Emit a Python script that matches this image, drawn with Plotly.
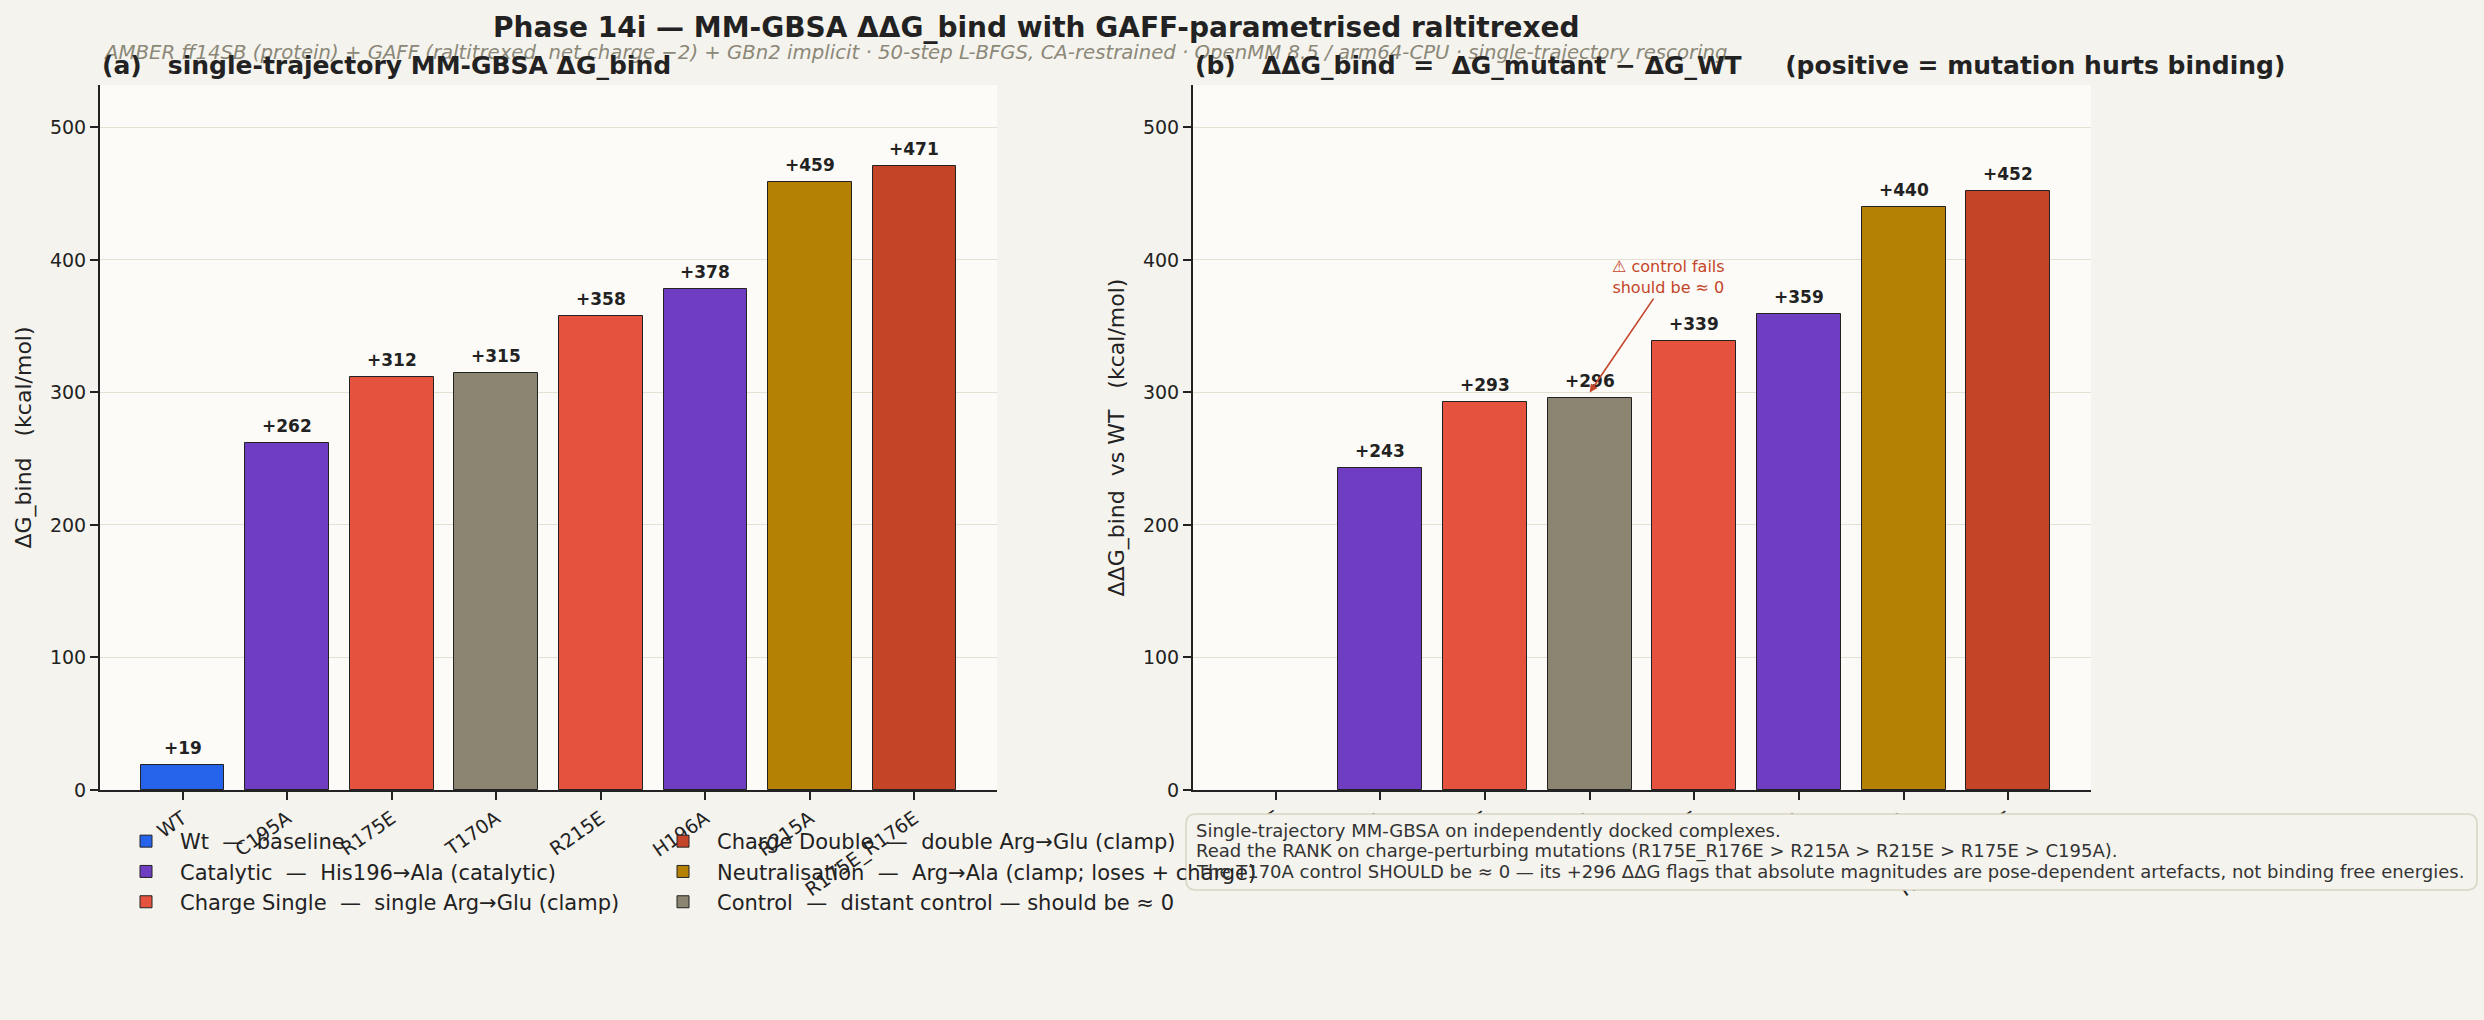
import plotly.graph_objects as go

# ---------------- data ----------------
mutants = ["WT", "C195A", "R175E", "T170A", "R215E", "H196A", "R215A", "R175E_R176E"]
mutant_groups = ["Wt", "Catalytic", "Charge Single", "Control", "Charge Single",
                 "Catalytic", "Neutralisation", "Charge Double"]
dg_bind = [19, 262, 312, 315, 358, 378, 459, 471]
ddg_bind = [0, 243, 293, 296, 339, 359, 440, 452]

legend_col1 = ["Wt", "Catalytic", "Charge Single"]
legend_col2 = ["Charge Double", "Neutralisation", "Control"]
group_desc = {
    "Wt": "baseline",
    "Catalytic": "His196→Ala (catalytic)",
    "Charge Single": "single Arg→Glu (clamp)",
    "Charge Double": "double Arg→Glu (clamp)",
    "Neutralisation": "Arg→Ala (clamp; loses + charge)",
    "Control": "distant control — should be ≈ 0",
}
group_colors = {
    "Wt": "#2563eb",
    "Catalytic": "#6f3dc1",
    "Charge Single": "#e5533f",
    "Charge Double": "#c44428",
    "Neutralisation": "#b58105",
    "Control": "#8b8470",
}
y_ticks = [0, 100, 200, 300, 400, 500]
note_lines = [
    "Single-trajectory MM-GBSA on independently docked complexes.",
    "Read the RANK on charge-perturbing mutations (R175E_R176E > R215A > R215E > R175E > C195A).",
    "The T170A control SHOULD be ≈ 0 — its +296 ΔΔG flags that absolute magnitudes are "
    "pose-dependent artefacts, not binding free energies.",
]

FONT = "DejaVu Sans"
INK = "#222222"
NBSP = "\u00a0"

fig = go.Figure()

positions = list(range(len(mutants)))
value_labels = []
for col, (legend_id, groups) in enumerate([("legend", legend_col1), ("legend2", legend_col2)]):
    for rank, g in enumerate(groups):
        idx = [i for i, mg in enumerate(mutant_groups) if mg == g]
        name = f"{g}{NBSP*2}—{NBSP*2}{group_desc[g]}"
        for panel, vals, xa, ya in [(0, dg_bind, "x", "y"), (1, ddg_bind, "x2", "y2")]:
            yv = [vals[i] for i in idx]
            fig.add_trace(go.Bar(
                x=[positions[i] for i in idx], y=yv,
                width=0.8,
                marker=dict(color=group_colors[g],
                            line=dict(color=INK, width=[1 if v else 0 for v in yv])),
                name=name, legendrank=rank + 1, legend=legend_id,
                showlegend=(panel == 0),
                xaxis=xa, yaxis=ya, hoverinfo="skip",
            ))
            for i, v in zip(idx, yv):
                if v:
                    value_labels.append(dict(
                        text=f"<b>+{v:.0f}</b>", xref=xa, yref=ya, x=positions[i], y=v,
                        xanchor="center", yanchor="bottom", yshift=5, showarrow=False,
                        font=dict(family=FONT, size=17, color=INK)))

W, H = 2484, 1020
xr = [-0.79, 7.79]
yr = [0, 532]
ydom = [(H - 790) / H, (H - 85) / H]

axis_common = dict(
    showline=True, linecolor=INK, linewidth=2, ticks="outside", ticklen=8,
    tickwidth=2, tickcolor=INK, tickfont=dict(family=FONT, size=19, color=INK),
    zeroline=False, automargin=False,
)

legend_common = dict(
    orientation="v", y=(H - 821) / H, xanchor="left", yanchor="top",
    font=dict(family=FONT, size=21, color=INK),
    bgcolor="rgba(0,0,0,0)", itemwidth=58, traceorder="normal",
)

fig.update_layout(
    width=W, height=H,
    margin=dict(l=0, r=0, t=0, b=0, autoexpand=False),
    paper_bgcolor="#f5f3ee", plot_bgcolor="#fcfbf7",
    barmode="overlay",
    bargap=0,
    font=dict(family=FONT, color=INK),
    showlegend=True,
    xaxis=dict(domain=[100 / W, 997 / W], range=xr, tickvals=positions, ticktext=mutants,
               tickangle=-35, showgrid=False, anchor="y", **axis_common),
    yaxis=dict(domain=ydom, range=yr, tickvals=y_ticks, showgrid=True, gridcolor="#e3e0d4",
               gridwidth=1, anchor="x",
               title=dict(text="ΔG_bind   (kcal/mol)", font=dict(family=FONT, size=22, color=INK),
                          standoff=12),
               **axis_common),
    xaxis2=dict(domain=[1193 / W, 2091 / W], range=xr, tickvals=positions, ticktext=mutants,
                tickangle=-35, showgrid=False, anchor="y2", **axis_common),
    yaxis2=dict(domain=ydom, range=yr, tickvals=y_ticks, showgrid=True, gridcolor="#e3e0d4",
                gridwidth=1, anchor="x2",
                title=dict(text="ΔΔG_bind  vs WT   (kcal/mol)", font=dict(family=FONT, size=22, color=INK),
                           standoff=12),
                **axis_common),
    legend=dict(x=112 / W, **legend_common),
    legend2=dict(x=(112 + 537) / W, **legend_common),
)

# note box background (drawn above the axes so it hides the panel-b tick labels,
# but below the legend and annotation texts)
bx0, bx1, by0, by1, r = 1186 / W, 2477 / W, (H - 890) / H, (H - 814) / H, 0.004
ry = r * W / H
box_path = (f"M{bx0 + r},{by0} L{bx1 - r},{by0} Q{bx1},{by0} {bx1},{by0 + ry} "
            f"L{bx1},{by1 - ry} Q{bx1},{by1} {bx1 - r},{by1} L{bx0 + r},{by1} "
            f"Q{bx0},{by1} {bx0},{by1 - ry} L{bx0},{by0 + ry} Q{bx0},{by0} {bx0 + r},{by0} Z")
fig.add_shape(type="path", path=box_path, xref="paper", yref="paper", layer="above",
              fillcolor="#f5f3ee", line=dict(color="#d9d6c4", width=1.5))

annotations = [
    dict(text="<b>Phase 14i — MM-GBSA ΔΔG_bind with GAFF-parametrised raltitrexed</b>",
         xref="paper", yref="paper", x=1036 / W, y=(H - 27) / H, xanchor="center", yanchor="middle",
         showarrow=False, font=dict(family=FONT, size=28, color=INK)),
    dict(text="<i>AMBER ff14SB (protein) + GAFF (raltitrexed, net charge −2) + GBn2 implicit · 50-step L-BFGS, "
              "CA-restrained · OpenMM 8.5 / arm64-CPU · single-trajectory rescoring</i>",
         xref="paper", yref="paper", x=101 / W, y=(H - 52) / H, xanchor="left", yanchor="middle",
         showarrow=False, font=dict(family=FONT, size=19.7, color="#8b8878")),
    dict(text=f"<b>(a){NBSP*3}single-trajectory MM-GBSA ΔG_bind</b>",
         xref="paper", yref="paper", x=100 / W, y=(H - 66) / H, xanchor="left", yanchor="middle",
         showarrow=False, font=dict(family=FONT, size=25, color=INK)),
    dict(text=f"<b>(b){NBSP*3}ΔΔG_bind{NBSP*2}={NBSP*2}ΔG_mutant − ΔG_WT{NBSP*5}(positive = mutation hurts binding)</b>",
         xref="paper", yref="paper", x=1193 / W, y=(H - 66) / H, xanchor="left", yanchor="middle",
         showarrow=False, font=dict(family=FONT, size=25, color=INK)),
    dict(text="⚠ control fails<br>should be ≈ 0",
         xref="x2", yref="y2", x=3, y=300, axref="x2", ayref="y2", ax=3.75, ay=387,
         showarrow=True, arrowhead=2, arrowsize=1, arrowwidth=1.6, arrowcolor="#c44428",
         font=dict(family=FONT, size=16, color="#c44428"), align="center"),
]
for k, line in enumerate(note_lines):
    annotations.append(dict(
        text=line, xref="paper", yref="paper", x=1194 / W, y=(H - (830 + 20.5 * k)) / H,
        xanchor="left", yanchor="middle", showarrow=False,
        font=dict(family=FONT, size=18, color="#333333")))
fig.update_layout(annotations=value_labels + annotations)

fig.write_html("out.html")
